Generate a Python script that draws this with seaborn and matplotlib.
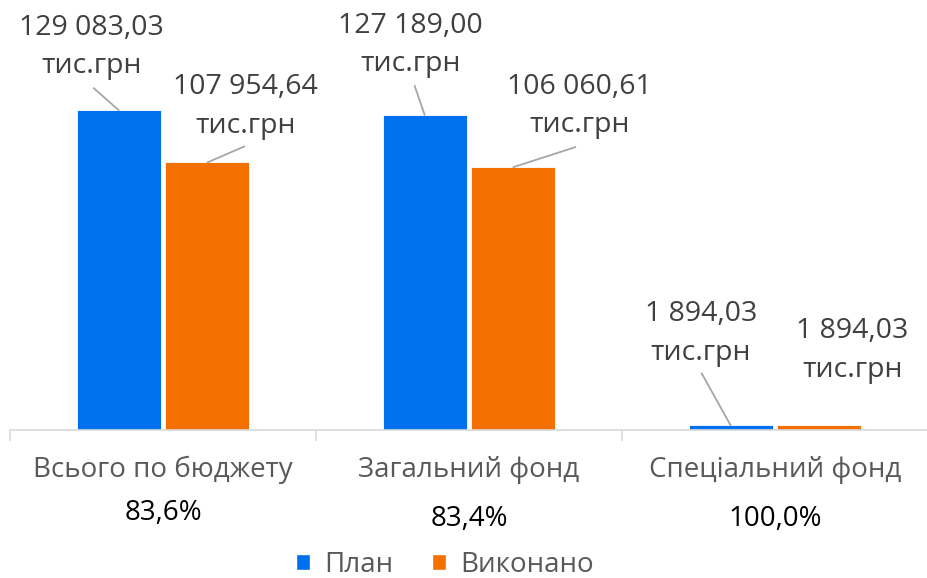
import matplotlib
matplotlib.use("Agg")
import matplotlib.pyplot as plt
from matplotlib.patches import Patch
import seaborn as sns
import pandas as pd

sns.set_style("white")
plt.rcParams['font.family'] = ['Open Sans', 'DejaVu Sans']

# data
categories = ["Всього по бюджету", "Загальний фонд", "Спеціальний фонд"]
percents = ["83,6%", "83,4%", "100,0%"]
series = ["План", "Виконано"]
plan = [129083.03, 127189.00, 1894.03]
done = [107954.64, 106060.61, 1894.03]
plan_labels = ["129 083,03\nтис.грн", "127 189,00\nтис.грн", "1 894,03\nтис.грн"]
done_labels = ["107 954,64\nтис.грн", "106 060,61\nтис.грн", "1 894,03\nтис.грн"]

colors = {"План": "#0071EE", "Виконано": "#F47000"}

df = pd.DataFrame({
    "cat": categories * 2,
    "series": [series[0]] * 3 + [series[1]] * 3,
    "value": plan + done,
})

fig = plt.figure(figsize=(9.28, 5.78), dpi=100)
ax = fig.add_axes([10 / 928, 1 - 430 / 578, 1 - 10 / 928, 430 / 578])

sns.barplot(data=df, x="cat", y="value", hue="series", palette=colors,
            saturation=1, width=0.58, gap=0.056, ax=ax, legend=False,
            errorbar=None, edgecolor="white", linewidth=0.6)

ax.set_xlim(-0.5, 2.5)
ax.set_ylim(0, 173500)
ax.set_xlabel("")
ax.set_ylabel("")
ax.set_yticks([])
for s in ["top", "right", "left"]:
    ax.spines[s].set_visible(False)
ax.spines["bottom"].set_color("#D9D9D9")
ax.spines["bottom"].set_linewidth(1.2)

# category separators as minor ticks
ax.set_xticks([0, 1, 2])
ax.set_xticklabels([])
ax.set_xticks([-0.5, 0.5, 1.5, 2.5], minor=True)
ax.tick_params(axis="x", which="major", length=0)
ax.tick_params(axis="x", which="minor", bottom=True, length=8, width=1.2,
               color="#D9D9D9", direction="out")

# category names and percentages
pct_dy = [-83, -89, -89]
for i, (c, p) in enumerate(zip(categories, percents)):
    ax.annotate(c, xy=(i, 0), xycoords=("data", "axes fraction"), xytext=(0, -40),
                textcoords="offset pixels", ha="center", va="center",
                fontsize=20, color="#595959", annotation_clip=False)
    ax.annotate(p, xy=(i, 0), xycoords=("data", "axes fraction"), xytext=(0, pct_dy[i]),
                textcoords="offset pixels", ha="center", va="center",
                fontsize=20, color="black", annotation_clip=False)

# value labels with leader lines (offsets in pixels from bar tops)
half = 0.58 / 4
plan_text_off = [(-27, 63), (-14, 70), (-30, 92)]
plan_line_off = [(-25, 22), (-10, 29), (-29, 52)]
done_text_off = [(38, 56), (66, 61), (33, 75)]
done_line_off = [(37, 16), (62, 20), None]

for i in range(3):
    for x, v, lab, toff, loff in [
        (i - half, plan[i], plan_labels[i], plan_text_off[i], plan_line_off[i]),
        (i + half, done[i], done_labels[i], done_text_off[i], done_line_off[i]),
    ]:
        ax.annotate(lab, xy=(x, v), xytext=toff, textcoords="offset pixels",
                    ha="center", va="center", fontsize=20.5, color="#404040",
                    linespacing=1.5, annotation_clip=False)
        if loff is not None:
            ax.annotate("", xy=(x, v), xytext=loff, textcoords="offset pixels",
                        arrowprops=dict(arrowstyle="-", color="#A6A6A6", lw=1.3,
                                        shrinkA=0, shrinkB=0),
                        annotation_clip=False)

handles = [Patch(facecolor=colors[s], label=s) for s in series]
leg = fig.legend(handles=handles, loc="center", bbox_to_anchor=(445 / 928, 1 - 565 / 578),
                 ncol=2, frameon=False, fontsize=20, handlelength=0.5, handleheight=0.5,
                 handletextpad=0.5, columnspacing=1.4)
for t in leg.get_texts():
    t.set_color("#595959")

fig.savefig("out.png", dpi=100)
